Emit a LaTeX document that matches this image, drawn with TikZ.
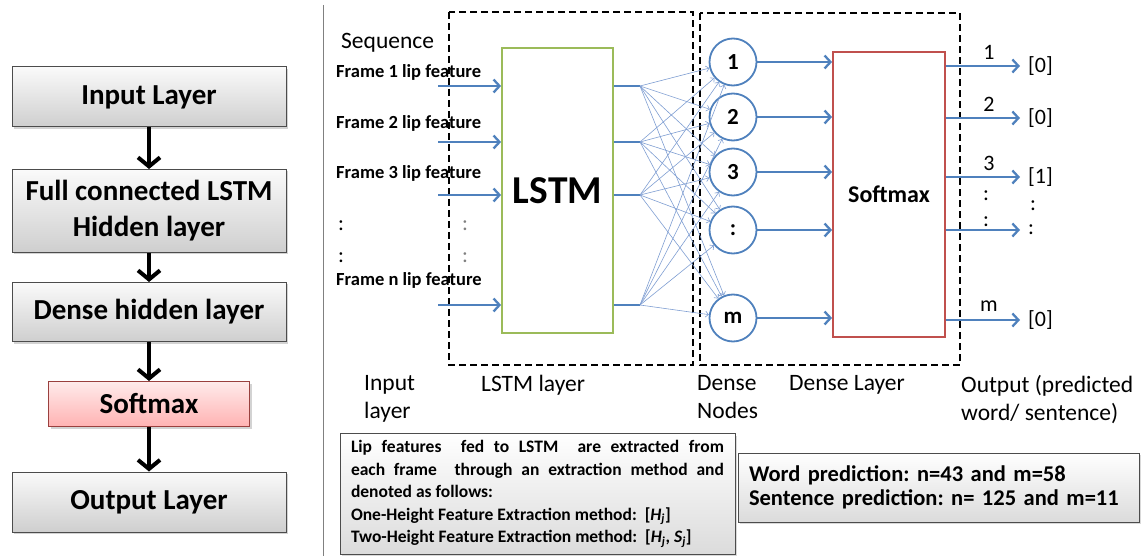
\documentclass[tikz,border=0pt]{standalone}
\usepackage{fontspec}
\setmainfont{Carlito}
\usetikzlibrary{arrows.meta,shadows}
\frenchspacing

\definecolor{arrowblue}{HTML}{4F81BD}
\definecolor{meshblue}{HTML}{7F9ED2}
\definecolor{lstmgreen}{HTML}{9BBB59}
\definecolor{softred}{HTML}{C0504D}
\newcommand{\fsz}[2]{\fontsize{#1}{#2}\selectfont}

\tikzset{
  layerbox/.style={draw=black!70, line width=1pt, top color=gray!4, bottom color=gray!38,
    minimum width=274pt, align=center, font=\fsz{29}{36}\bfseries,
    drop shadow={opacity=.35, shadow xshift=2pt, shadow yshift=-2pt}},
  downarrow/.style={line width=4pt, -{Straight Barb[length=9pt,width=22pt,line width=4pt]}},
  bluearrow/.style={arrowblue, line width=2.8pt, -{Straight Barb[length=6pt,width=13pt,line width=2.3pt]}},
  bluebar/.style={arrowblue, line width=2.8pt},
  meshline/.style={meshblue, line width=.6pt, -{Straight Barb[length=3pt,width=6pt,line width=.6pt]}},
  framelbl/.style={anchor=west, inner sep=0pt, font=\fsz{18.5}{20}\bfseries},
  densenode/.style={circle, draw=arrowblue, line width=1.8pt, fill=white, minimum size=47pt, inner sep=0pt, font=\fsz{23}{24}\bfseries},
  outlbl/.style={inner sep=0pt, font=\fsz{22}{24}},
  dotlbl/.style={inner sep=0pt, font=\fsz{22}{24}},
  botlbl/.style={anchor=north west, inner sep=0pt, align=left, font=\fsz{23.5}{28}},
  layerframe/.style={dashed, dash pattern=on 7pt off 4pt, line width=1.2pt},
  notebox/.style={draw=black!70, line width=1pt, top color=white, bottom color=gray!28,
    drop shadow={opacity=.3, shadow xshift=2pt, shadow yshift=-2pt}}
}

\begin{document}
\begin{tikzpicture}[x=1pt,y=-1pt]
\useasboundingbox (0,0) rectangle (1141,556);

% layer stack on the left
\node[layerbox, minimum height=60pt] (inl) at (149,97) {Input Layer};
\node[layerbox, minimum height=83pt] (fcl) at (149,211) {Full connected LSTM\\Hidden layer};
\node[layerbox, minimum height=59pt] (dhl) at (149,312) {Dense hidden layer};
\node[layerbox, minimum width=201pt, minimum height=45pt, draw=softred!80!black,
  top color=red!8, bottom color=red!30] (smx) at (149,404) {Softmax};
\node[layerbox, minimum height=60pt] (outl) at (149,502) {Output Layer};
\foreach \a/\b in {inl/fcl, fcl/dhl, dhl/smx, smx/outl}
  \draw[downarrow] (\a) -- (\b);

\draw[gray, line width=1pt] (323,5) -- (323,556);

% network on the right
\draw[layerframe] (449,12) rectangle (693,365);
\draw[layerframe] (700,13) rectangle (960,365);

\node[anchor=west, inner sep=0pt, font=\fsz{23.5}{24}] (seq) at (341,43) {Sequence};
\foreach \i/\lbl/\y in {1/1/72, 2/2/123, 3/3/173, 4/n/280}
  \node[framelbl] (f\i) at (336,\y) {Frame \lbl{} lip feature};
\node[dotlbl] (fd1) at (341,226) {:};
\node[dotlbl] (fd2) at (341,258) {:};
\node[dotlbl, gray] (fd3) at (465,226) {:};
\node[dotlbl, gray] (fd4) at (465,258) {:};

\node[draw=lstmgreen, line width=1.8pt, minimum width=111pt, minimum height=285pt,
  font=\fsz{39.5}{40}\bfseries] (lstm) at (557.5,190.5) {\raisebox{-3pt}{LSTM}};
\foreach \i/\y in {1/86, 2/142, 3/195, 4/305} {
  \coordinate (in\i) at (438,\y);
  \coordinate (h\i) at (640,\y);
  \draw[bluearrow] (in\i) -- (in\i -| lstm.west);
  \draw[bluebar] (h\i -| lstm.east) -- (h\i);
}

\foreach \i/\lbl/\y in {1/1/62, 2/2/117, 3/3/172, 4/:/230, 5/m/318}
  \node[densenode] (d\i) at (733,\y) {\lbl};
\foreach \s in {1,...,4}
  \foreach \d in {1,...,5}
    \draw[meshline] (h\s) -- (d\d);

\node[draw=softred, line width=1.8pt, minimum width=112pt, minimum height=285pt,
  font=\fsz{24}{24}\bfseries] (soft) at (889,194.5) {Softmax};
\foreach \i in {1,...,5}
  \draw[bluearrow] (d\i) -- (d\i -| soft.west);

\foreach \i/\y/\lbl/\val in {1/66/1/[0], 2/118/2/[0], 3/177/3/[1], 4/230//:, 5/320/m/[0]} {
  \coordinate (o\i) at (1020,\y);
  \draw[bluearrow] (o\i -| soft.east) -- (o\i);
  \node[outlbl, anchor=west] (v\i) at (1028,\y) {\val};
  \node[outlbl] (n\i) at (989,\y-14) {\lbl};
}
\node[dotlbl] (od1) at (986,196) {:};
\node[dotlbl] (od2) at (986,222) {:};
\node[dotlbl] (od3) at (1033,206) {:};

% captions under the frames
\node[botlbl] (lin) at (364,375) {Input\\layer};
\node[botlbl] (llstm) at (481,375) {LSTM layer};
\node[botlbl] (ldn) at (697,375) {Dense\\Nodes};
\node[botlbl] (ldl) at (789,375) {Dense Layer};
\node[botlbl] (lout) at (961,375) {Output (predicted\\word/ sentence)};

\node[notebox, minimum width=395pt, minimum height=121pt, inner xsep=11pt, text width=373pt,
  align=justify, font=\fsz{17.5}{22.5}\bfseries] (note) at (537.5,494) {%
  Lip features\ \ fed to LSTM\ \ are extracted from\linebreak
  each frame\ \ through an extraction method and\linebreak
  denoted as follows:\\
  One-Height Feature Extraction method:\ \ [\textit{H}\textsubscript{\textit{j}}]\\
  Two-Height Feature Extraction method:\ \ [\textit{H}\textsubscript{\textit{j}}, \textit{S}\textsubscript{\textit{j}}]};
\node[notebox, minimum width=401pt, minimum height=69pt, inner xsep=11pt, text width=379pt,
  align=left, font=\fsz{22.5}{24.5}\bfseries] (pred) at (938.5,487.5)
  {Word prediction: n=43 and m=58\\Sentence prediction: n= 125 and m=11};
\end{tikzpicture}
\end{document}
